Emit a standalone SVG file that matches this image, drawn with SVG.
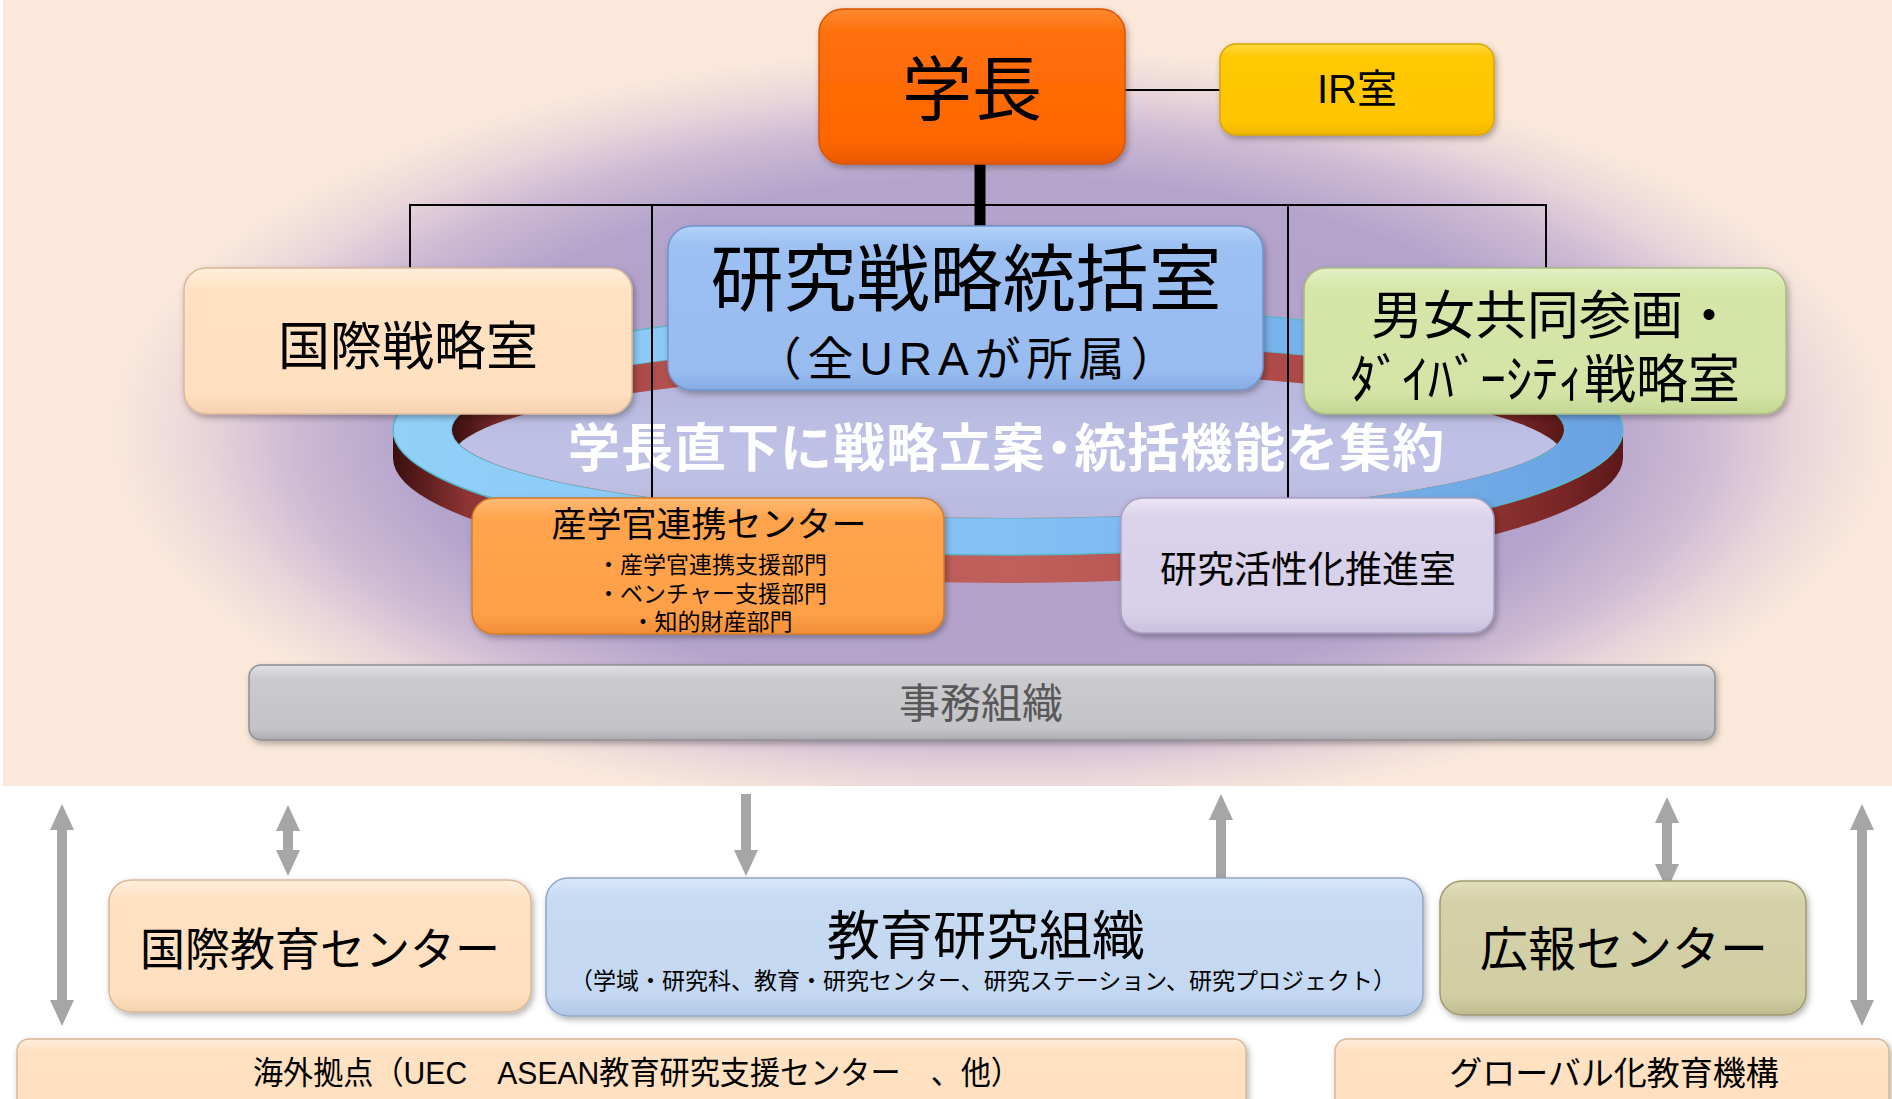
<svg xmlns="http://www.w3.org/2000/svg" width="1892" height="1099" viewBox="0 0 1892 1099">
<defs>
<style>
text { font-family: "Liberation Sans", "Noto Sans CJK JP", "Noto Sans CJK SC", sans-serif; fill: #000; }
.c { text-anchor: middle; }
.box { stroke-width: 1.5; filter: url(#sh); }
.ln { stroke: #000; stroke-width: 2; fill: none; }
.arr { stroke: #A6A6A6; stroke-width: 10; fill: none; }
</style>
<filter id="sh" x="-10%" y="-10%" width="120%" height="135%">
<feDropShadow dx="2" dy="3" stdDeviation="3" flood-color="#000" flood-opacity="0.3"/>
</filter>
<clipPath id="bandClip"><rect x="3" y="0" width="1889" height="786"/></clipPath>
<radialGradient id="glow">
<stop offset="0" stop-color="#B0A0C9"/>
<stop offset="0.66" stop-color="#B4A4CC"/>
<stop offset="0.79" stop-color="#CDB9D3"/>
<stop offset="0.9" stop-color="#EAD6DA"/>
<stop offset="1" stop-color="#FBE8DB"/>
</radialGradient>
<linearGradient id="gBlueRing" x1="0" y1="0" x2="1" y2="0">
<stop offset="0" stop-color="#92D0F8"/>
<stop offset="0.5" stop-color="#84C0F4"/>
<stop offset="1" stop-color="#6AA2E2"/>
</linearGradient>
<linearGradient id="gWall" x1="0" y1="0" x2="1" y2="0">
<stop offset="0" stop-color="#3A0E0E"/>
<stop offset="0.06" stop-color="#8E3434"/>
<stop offset="0.2" stop-color="#B4524E"/>
<stop offset="0.5" stop-color="#C0605C"/>
<stop offset="0.8" stop-color="#AA4644"/>
<stop offset="0.95" stop-color="#7A2626"/>
<stop offset="1" stop-color="#5A1818"/>
</linearGradient>
<linearGradient id="gHole" x1="0" y1="0" x2="0" y2="1">
<stop offset="0" stop-color="#B6B4DC"/>
<stop offset="0.5" stop-color="#BFC2E6"/>
<stop offset="1" stop-color="#B8B4DA"/>
</linearGradient>
<clipPath id="holeClip"><ellipse cx="1008" cy="430" rx="556" ry="88"/></clipPath>
<linearGradient id="gPres" x1="0" y1="0" x2="0" y2="1">
<stop offset="0" stop-color="#FF8A30"/><stop offset="0.15" stop-color="#FF700C"/><stop offset="0.85" stop-color="#FF6600"/><stop offset="1" stop-color="#E85800"/>
</linearGradient>
<linearGradient id="gIR" x1="0" y1="0" x2="0" y2="1">
<stop offset="0" stop-color="#FFD840"/><stop offset="0.15" stop-color="#FFC800"/><stop offset="0.85" stop-color="#FFC600"/><stop offset="1" stop-color="#F0B600"/>
</linearGradient>
<linearGradient id="gPeach" x1="0" y1="0" x2="0" y2="1">
<stop offset="0" stop-color="#FFEEDD"/><stop offset="0.15" stop-color="#FFE2C3"/><stop offset="0.85" stop-color="#FFE0C0"/><stop offset="1" stop-color="#F5D2B0"/>
</linearGradient>
<linearGradient id="gBlue" x1="0" y1="0" x2="0" y2="1">
<stop offset="0" stop-color="#B2D2FA"/><stop offset="0.12" stop-color="#9CC0F2"/><stop offset="0.88" stop-color="#98BCF0"/><stop offset="1" stop-color="#86ACE4"/>
</linearGradient>
<linearGradient id="gGreen" x1="0" y1="0" x2="0" y2="1">
<stop offset="0" stop-color="#E4F0C4"/><stop offset="0.15" stop-color="#D6E6A8"/><stop offset="0.85" stop-color="#D4E4A6"/><stop offset="1" stop-color="#C4D694"/>
</linearGradient>
<linearGradient id="gOrange" x1="0" y1="0" x2="0" y2="1">
<stop offset="0" stop-color="#FFBA72"/><stop offset="0.15" stop-color="#FFA44E"/><stop offset="0.85" stop-color="#FFA048"/><stop offset="1" stop-color="#F08E36"/>
</linearGradient>
<linearGradient id="gLav" x1="0" y1="0" x2="0" y2="1">
<stop offset="0" stop-color="#ECE6F6"/><stop offset="0.15" stop-color="#DAD2EA"/><stop offset="0.85" stop-color="#D8D0E8"/><stop offset="1" stop-color="#CAC0DE"/>
</linearGradient>
<linearGradient id="gGray" x1="0" y1="0" x2="0" y2="1">
<stop offset="0" stop-color="#E2E2E6"/><stop offset="0.2" stop-color="#CACACE"/><stop offset="0.85" stop-color="#C4C4C8"/><stop offset="1" stop-color="#ACACB0"/>
</linearGradient>
<linearGradient id="gLBlue" x1="0" y1="0" x2="0" y2="1">
<stop offset="0" stop-color="#D8E8FA"/><stop offset="0.15" stop-color="#C6DAF2"/><stop offset="0.85" stop-color="#C4D8F1"/><stop offset="1" stop-color="#B0C6E6"/>
</linearGradient>
<linearGradient id="gKhaki" x1="0" y1="0" x2="0" y2="1">
<stop offset="0" stop-color="#E2DFBC"/><stop offset="0.15" stop-color="#D4D0A8"/><stop offset="0.85" stop-color="#D2CEA4"/><stop offset="1" stop-color="#C0BC90"/>
</linearGradient>
<marker id="ah" viewBox="0 0 26 24" refX="8" refY="12" markerWidth="26" markerHeight="24" markerUnits="userSpaceOnUse" orient="auto-start-reverse">
<path d="M0,0 L26,12 L0,24 Z" fill="#A6A6A6"/>
</marker>
</defs>

<!-- background -->
<rect x="0" y="0" width="1892" height="1099" fill="#FFFFFF"/>
<rect x="3" y="0" width="1889" height="786" fill="#FBE8DB"/>
<ellipse cx="1000" cy="432" rx="890" ry="385" fill="url(#glow)" clip-path="url(#bandClip)"/>

<!-- decorative ring -->
<g id="ring">
<path d="M393,430 L393,458 A615,125 0 0 0 1623,458 L1623,430 Z" fill="url(#gWall)"/>
<path d="M393,430 A615,125 0 1 0 1623,430 A615,125 0 1 0 393,430 Z M452,430 A556,88 0 1 0 1564,430 A556,88 0 1 0 452,430 Z" fill="url(#gBlueRing)" fill-rule="evenodd" stroke="#5BB8CC" stroke-width="1.5"/>
<ellipse cx="1008" cy="430" rx="556" ry="88" fill="url(#gWall)"/>
<ellipse cx="1008" cy="458" rx="556" ry="88" fill="url(#gHole)" clip-path="url(#holeClip)"/>
<text x="568" y="467" dx="0 0 0 0 0 0 0 0 0 -12 -12" font-size="52" font-weight="bold" letter-spacing="1" style="fill:#FFFFFF">学長直下に戦略立案・統括機能を集約</text>
</g>

<!-- connectors -->
<g id="connectors">
<line class="ln" x1="1125" y1="90" x2="1220" y2="90"/>
<line x1="980" y1="164" x2="980" y2="227" stroke="#000" stroke-width="11"/>
<line class="ln" x1="409" y1="205" x2="1547" y2="205"/>
<line class="ln" x1="410" y1="204" x2="410" y2="268"/>
<line class="ln" x1="652" y1="204" x2="652" y2="498"/>
<line class="ln" x1="1288" y1="204" x2="1288" y2="498"/>
<line class="ln" x1="1546" y1="204" x2="1546" y2="268"/>
<line class="arr" x1="62" y1="822" x2="62" y2="1008" marker-start="url(#ah)" marker-end="url(#ah)"/>
<line class="arr" x1="288" y1="823" x2="288" y2="858" marker-start="url(#ah)" marker-end="url(#ah)"/>
<line class="arr" x1="746" y1="794" x2="746" y2="858" marker-end="url(#ah)"/>
<line class="arr" x1="1221" y1="878" x2="1221" y2="812" marker-end="url(#ah)"/>
<line class="arr" x1="1667" y1="815" x2="1667" y2="872" marker-start="url(#ah)" marker-end="url(#ah)"/>
<line class="arr" x1="1862" y1="822" x2="1862" y2="1008" marker-start="url(#ah)" marker-end="url(#ah)"/>
</g>

<g id="president">
<rect class="box" x="819" y="9" width="306" height="155" rx="24" fill="url(#gPres)" stroke="#D85400"/>
<text class="c" x="972" y="115" font-size="70">学長</text>
</g>

<g id="ir">
<rect class="box" x="1220" y="44" width="274" height="91" rx="16" fill="url(#gIR)" stroke="#D8A600"/>
<text class="c" x="1357" y="103" font-size="40">IR室</text>
</g>

<g id="intl-strategy">
<rect class="box" x="184" y="268" width="448" height="146" rx="22" fill="url(#gPeach)" stroke="#D9B899"/>
<text class="c" x="408" y="365" font-size="52">国際戦略室</text>
</g>

<g id="research-strategy">
<rect class="box" x="668" y="226" width="595" height="164" rx="24" fill="url(#gBlue)" stroke="#6F93CA"/>
<text class="c" x="966" y="305" font-size="73">研究戦略統括室</text>
<text class="c" x="969" y="375" font-size="46" letter-spacing="6">（全URAが所属）</text>
</g>

<g id="diversity">
<rect class="box" x="1304" y="268" width="482" height="146" rx="22" fill="url(#gGreen)" stroke="#A9BA82"/>
<text class="c" x="1553" y="334" font-size="52">男女共同参画・</text>
<text class="c" x="1545" y="398" font-size="52">ﾀﾞｲﾊﾞｰｼﾃｨ戦略室</text>
</g>

<g id="industry">
<rect class="box" x="472" y="498" width="472" height="136" rx="22" fill="url(#gOrange)" stroke="#D27C2A"/>
<text class="c" x="709" y="537" font-size="35">産学官連携センター</text>
<text class="c" x="712" y="573" font-size="23">・産学官連携支援部門</text>
<text class="c" x="712" y="602" font-size="23">・ベンチャー支援部門</text>
<text class="c" x="712" y="630" font-size="23">・知的財産部門</text>
</g>

<g id="research-promotion">
<rect class="box" x="1121" y="498" width="373" height="135" rx="22" fill="url(#gLav)" stroke="#A99FC4"/>
<text class="c" x="1308" y="583" font-size="37">研究活性化推進室</text>
</g>

<g id="admin">
<rect class="box" x="249" y="665" width="1466" height="75" rx="12" fill="url(#gGray)" stroke="#8E8E92"/>
<text class="c" x="981" y="718" font-size="41" style="fill:#585858">事務組織</text>
</g>

<g id="intl-edu">
<rect class="box" x="109" y="880" width="422" height="132" rx="22" fill="url(#gPeach)" stroke="#D9B899"/>
<text class="c" x="320" y="966" font-size="45">国際教育センター</text>
</g>

<g id="edu-research">
<rect class="box" x="546" y="878" width="877" height="138" rx="22" fill="url(#gLBlue)" stroke="#8EA8CC"/>
<text class="c" x="986" y="955" font-size="53">教育研究組織</text>
<text class="c" x="983" y="989" font-size="23">（学域・研究科、教育・研究センター、研究ステーション、研究プロジェクト）</text>
</g>

<g id="pr">
<rect class="box" x="1440" y="881" width="366" height="134" rx="22" fill="url(#gKhaki)" stroke="#9E9A70"/>
<text class="c" x="1624" y="966" font-size="48">広報センター</text>
</g>

<g id="overseas">
<rect class="box" x="17" y="1039" width="1229" height="80" rx="12" fill="url(#gPeach)" stroke="#D9B899"/>
<text class="c" x="637" y="1084" font-size="32" textLength="768" lengthAdjust="spacingAndGlyphs">海外拠点（UEC　ASEAN教育研究支援センター　、他）</text>
</g>

<g id="global">
<rect class="box" x="1335" y="1039" width="554" height="80" rx="12" fill="url(#gPeach)" stroke="#D9B899"/>
<text class="c" x="1614" y="1085" font-size="33">グローバル化教育機構</text>
</g>
</svg>
